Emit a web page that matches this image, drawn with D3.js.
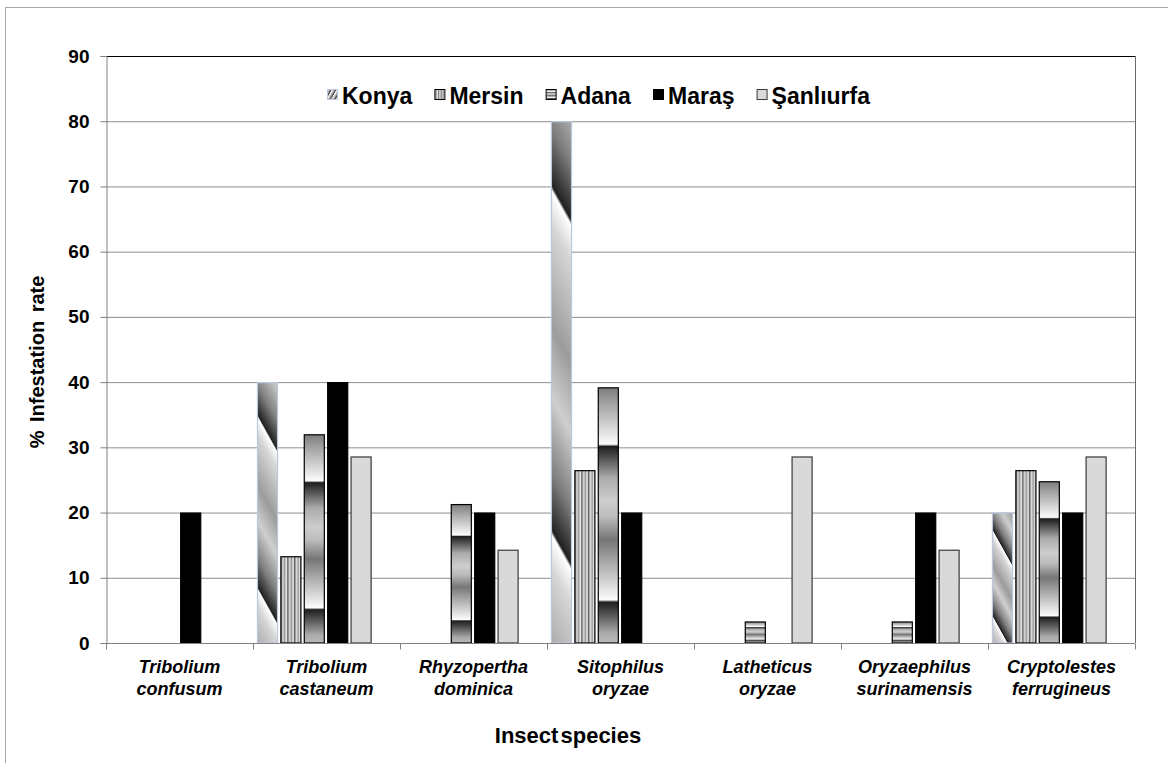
<!DOCTYPE html>
<html>
<head>
<meta charset="utf-8">
<script src="https://cdn.jsdelivr.net/npm/d3@7"></script>
<style>
  body { margin: 0; background: #fff; }
  text { font-family: "Liberation Sans", Arial, sans-serif; font-weight: bold; fill: #000; }
</style>
</head>
<body>
<svg id="svg"></svg>
<script>
const species = ["Tribolium confusum", "Tribolium castaneum", "Rhyzopertha dominica", "Sitophilus oryzae",
                 "Latheticus oryzae", "Oryzaephilus surinamensis", "Cryptolestes ferrugineus"];
const regions = ["Konya", "Mersin", "Adana", "Maraş", "Şanlıurfa"];

// % infestation per region, one value per species
const konya     = [0, 40, 0, 80, 0, 0, 20];
const mersin    = [0, 13.3, 0, 26.5, 0, 0, 26.5];
const adana     = [0, 32, 21.3, 39.2, 3.3, 3.3, 24.8];
const maras     = [20, 40, 20, 20, 0, 20, 20];
const sanliurfa = [0, 28.6, 14.3, 0, 28.6, 14.3, 28.6];

const yTicks = [0, 10, 20, 30, 40, 50, 60, 70, 80, 90];

const layout = {"width": 1168, "height": 763, "left": 106, "right": 1135, "top": 56, "bottom": 643};

const seriesValues = [konya, mersin, adana, maras, sanliurfa];
const table = [];
species.forEach((s, i) => {
  regions.forEach((r, j) => table.push({species: s, region: r, value: seriesValues[j][i]}));
});

const svg = d3.select("#svg").attr("width", layout.width).attr("height", layout.height);
const defs = svg.append("defs");

// outer chart frame
svg.append("rect").attr("x", 5.5).attr("y", 7.5).attr("width", 1180).attr("height", 780)
   .attr("fill", "none").attr("stroke", "#a6a6a6").attr("stroke-width", 1);

const xScale = d3.scaleBand().domain(species).range([layout.left, layout.right]);
const bw = xScale.bandwidth();
const x1 = d3.scaleBand().domain(regions).range([bw * 0.027, bw * 0.027 + bw * 0.78]).paddingInner(0.1);
const yScale = d3.scaleLinear().domain([0, 90]).range([layout.bottom, layout.top]);

// gradients
const mersinGrad = defs.append("linearGradient").attr("id", "gMersin")
  .attr("x1", 0).attr("y1", 0).attr("x2", 0.34).attr("y2", 0).attr("spreadMethod", "repeat");
[[0, "#6a6a6a"], [0.3, "#dcdcdc"], [0.55, "#9a9a9a"], [0.8, "#f2f2f2"], [1, "#6a6a6a"]]
  .forEach(s => mersinGrad.append("stop").attr("offset", s[0]).attr("stop-color", s[1]));

const adanaGrad = defs.append("linearGradient").attr("id", "gAdana")
  .attr("x1", 0).attr("y1", 0.23).attr("x2", 0).attr("y2", 0.84).attr("spreadMethod", "repeat");
[[0, "#1e1e1e"], [0.08, "#555"], [0.2, "#ababab"], [0.35, "#cdcdcd"], [0.45, "#bcbcbc"],
 [0.6, "#767676"], [0.75, "#ababab"], [0.9, "#dedede"], [0.985, "#fcfcfc"], [1, "#1e1e1e"]]
  .forEach(s => adanaGrad.append("stop").attr("offset", s[0]).attr("stop-color", s[1]));

const konyaStops = [[0, "#ffffff"], [0.1, "#d6d6d6"], [0.4, "#9c9c9c"], [0.6, "#cfcfcf"],
                    [0.82, "#7e7e7e"], [0.985, "#202020"], [1, "#ffffff"]];

function konyaFill(d, i) {
  const x = xScale(d.species) + x1(d.region);
  const y0 = yScale(d.value), h = yScale(0) - y0;
  const period = 0.66 * h;
  const nx = -1.8, ny = 1, len = Math.hypot(nx, ny);
  const L = period / len; // vector length along the normal
  const ox = x, oy = y0 + 0.13 * h;
  const id = "gKonya" + i;
  const g = defs.append("linearGradient").attr("id", id).attr("gradientUnits", "userSpaceOnUse")
    .attr("spreadMethod", "repeat")
    .attr("x1", ox).attr("y1", oy)
    .attr("x2", ox + nx / len * L).attr("y2", oy + ny / len * L);
  konyaStops.forEach(s => g.append("stop").attr("offset", s[0]).attr("stop-color", s[1]));
  return "url(#" + id + ")";
}

const fills = {"Mersin": "url(#gMersin)", "Adana": "url(#gAdana)", "Maraş": "#000", "Şanlıurfa": "#d9d9d9"};
const strokes = {"Konya": "#bcc6dc", "Mersin": "#000", "Adana": "#000", "Maraş": "#000", "Şanlıurfa": "#3a3a3a"};

// gridlines
svg.append("g").selectAll("line").data(yTicks.filter(t => t > 0 && t < 90)).join("line")
   .attr("x1", layout.left).attr("x2", layout.right)
   .attr("y1", d => yScale(d) + 0.5).attr("y2", d => yScale(d) + 0.5)
   .attr("stroke", "#8e8e8e").attr("stroke-width", 1);

// plot frame top / right
svg.append("line").attr("x1", layout.left).attr("x2", layout.right)
   .attr("y1", yScale(90) + 0.5).attr("y2", yScale(90) + 0.5).attr("stroke", "#000");
svg.append("line").attr("x1", layout.right + 0.5).attr("x2", layout.right + 0.5)
   .attr("y1", yScale(90)).attr("y2", yScale(0)).attr("stroke", "#6a6a6a");

// bars
svg.append("g").selectAll("rect").data(table.filter(d => d.value > 0)).join("rect")
   .attr("x", d => xScale(d.species) + x1(d.region) + 0.5)
   .attr("y", d => yScale(d.value) + 0.5)
   .attr("width", x1.bandwidth() - 1)
   .attr("height", d => yScale(0) - yScale(d.value) - 0.5)
   .attr("fill", (d, i) => d.region === "Konya" ? konyaFill(d, i) : fills[d.region])
   .attr("stroke", d => strokes[d.region]).attr("stroke-width", 1.2);

// y axis
const yAxis = svg.append("g").attr("transform", `translate(${layout.left + 0.5},0)`)
   .call(d3.axisLeft(yScale).tickValues(yTicks).tickSize(6).tickPadding(11));
yAxis.select(".domain").attr("stroke", "#808080");
yAxis.selectAll(".tick line").attr("stroke", "#808080");
yAxis.selectAll(".tick text").attr("font-size", 19).attr("font-family", "Liberation Sans, Arial, sans-serif")
   .attr("font-weight", "bold").attr("fill", "#000");

// x axis
const xAxisG = svg.append("g").attr("transform", `translate(0,${layout.bottom + 0.5})`);
xAxisG.append("line").attr("x1", layout.left).attr("x2", layout.right).attr("stroke", "#808080");
xAxisG.selectAll(".xtick").data(species.map(s => xScale(s)).concat([layout.right])).join("line")
   .attr("class", "xtick").attr("x1", d => d + 0.5).attr("x2", d => d + 0.5)
   .attr("y1", 0).attr("y2", 6).attr("stroke", "#808080");

const catLabels = svg.append("g").selectAll("text").data(species).join("text")
   .attr("text-anchor", "middle").attr("font-size", 18).attr("font-style", "italic")
   .attr("x", d => xScale(d) + bw / 2).attr("y", 673);
catLabels.selectAll("tspan").data(d => d.split(" ")).join("tspan")
   .attr("x", function() { return d3.select(this.parentNode).attr("x"); })
   .attr("dy", (d, i) => i === 0 ? 0 : 22).text(d => d);

// axis titles
svg.append("text").attr("x", 568).attr("y", 743).attr("text-anchor", "middle")
   .attr("font-size", 22).attr("word-spacing", -4).text("Insect species");
svg.append("text").attr("transform", "translate(44,362) rotate(-90)").attr("text-anchor", "middle")
   .attr("font-size", 20).attr("word-spacing", 3).text("% Infestation rate");

// legend
const legendLeft = 327, legendRight = 870;
const legend = svg.append("g").attr("transform", `translate(${legendLeft},96)`);
const items = regions.map(r => {
  const item = legend.append("g");
  const sw = item.append("rect").attr("x", 0.5).attr("y", -6.5).attr("width", 10).attr("height", 10)
     .attr("stroke", r === "Konya" ? "#bcc6dc" : strokes[r]).attr("stroke-width", 1);
  if (r === "Konya") {
    const lg = defs.append("linearGradient").attr("id", "gKonyaLeg")
      .attr("x1", 0).attr("y1", 0).attr("x2", 0.35).attr("y2", 0.2).attr("spreadMethod", "repeat");
    [[0, "#fff"], [0.5, "#aaa"], [0.9, "#333"], [1, "#fff"]]
      .forEach(s => lg.append("stop").attr("offset", s[0]).attr("stop-color", s[1]));
    sw.attr("fill", "url(#gKonyaLeg)");
  } else {
    sw.attr("fill", fills[r]);
  }
  const t = item.append("text").attr("x", 15).attr("y", 7.5).attr("font-size", 23).text(r);
  return {g: item, w: 15 + t.node().getComputedTextLength()};
});
const gap = (legendRight - legendLeft - d3.sum(items, d => d.w)) / (items.length - 1);
let lx = 0;
items.forEach(it => { it.g.attr("transform", `translate(${lx},0)`); lx += it.w + gap; });
</script>
</body>
</html>
